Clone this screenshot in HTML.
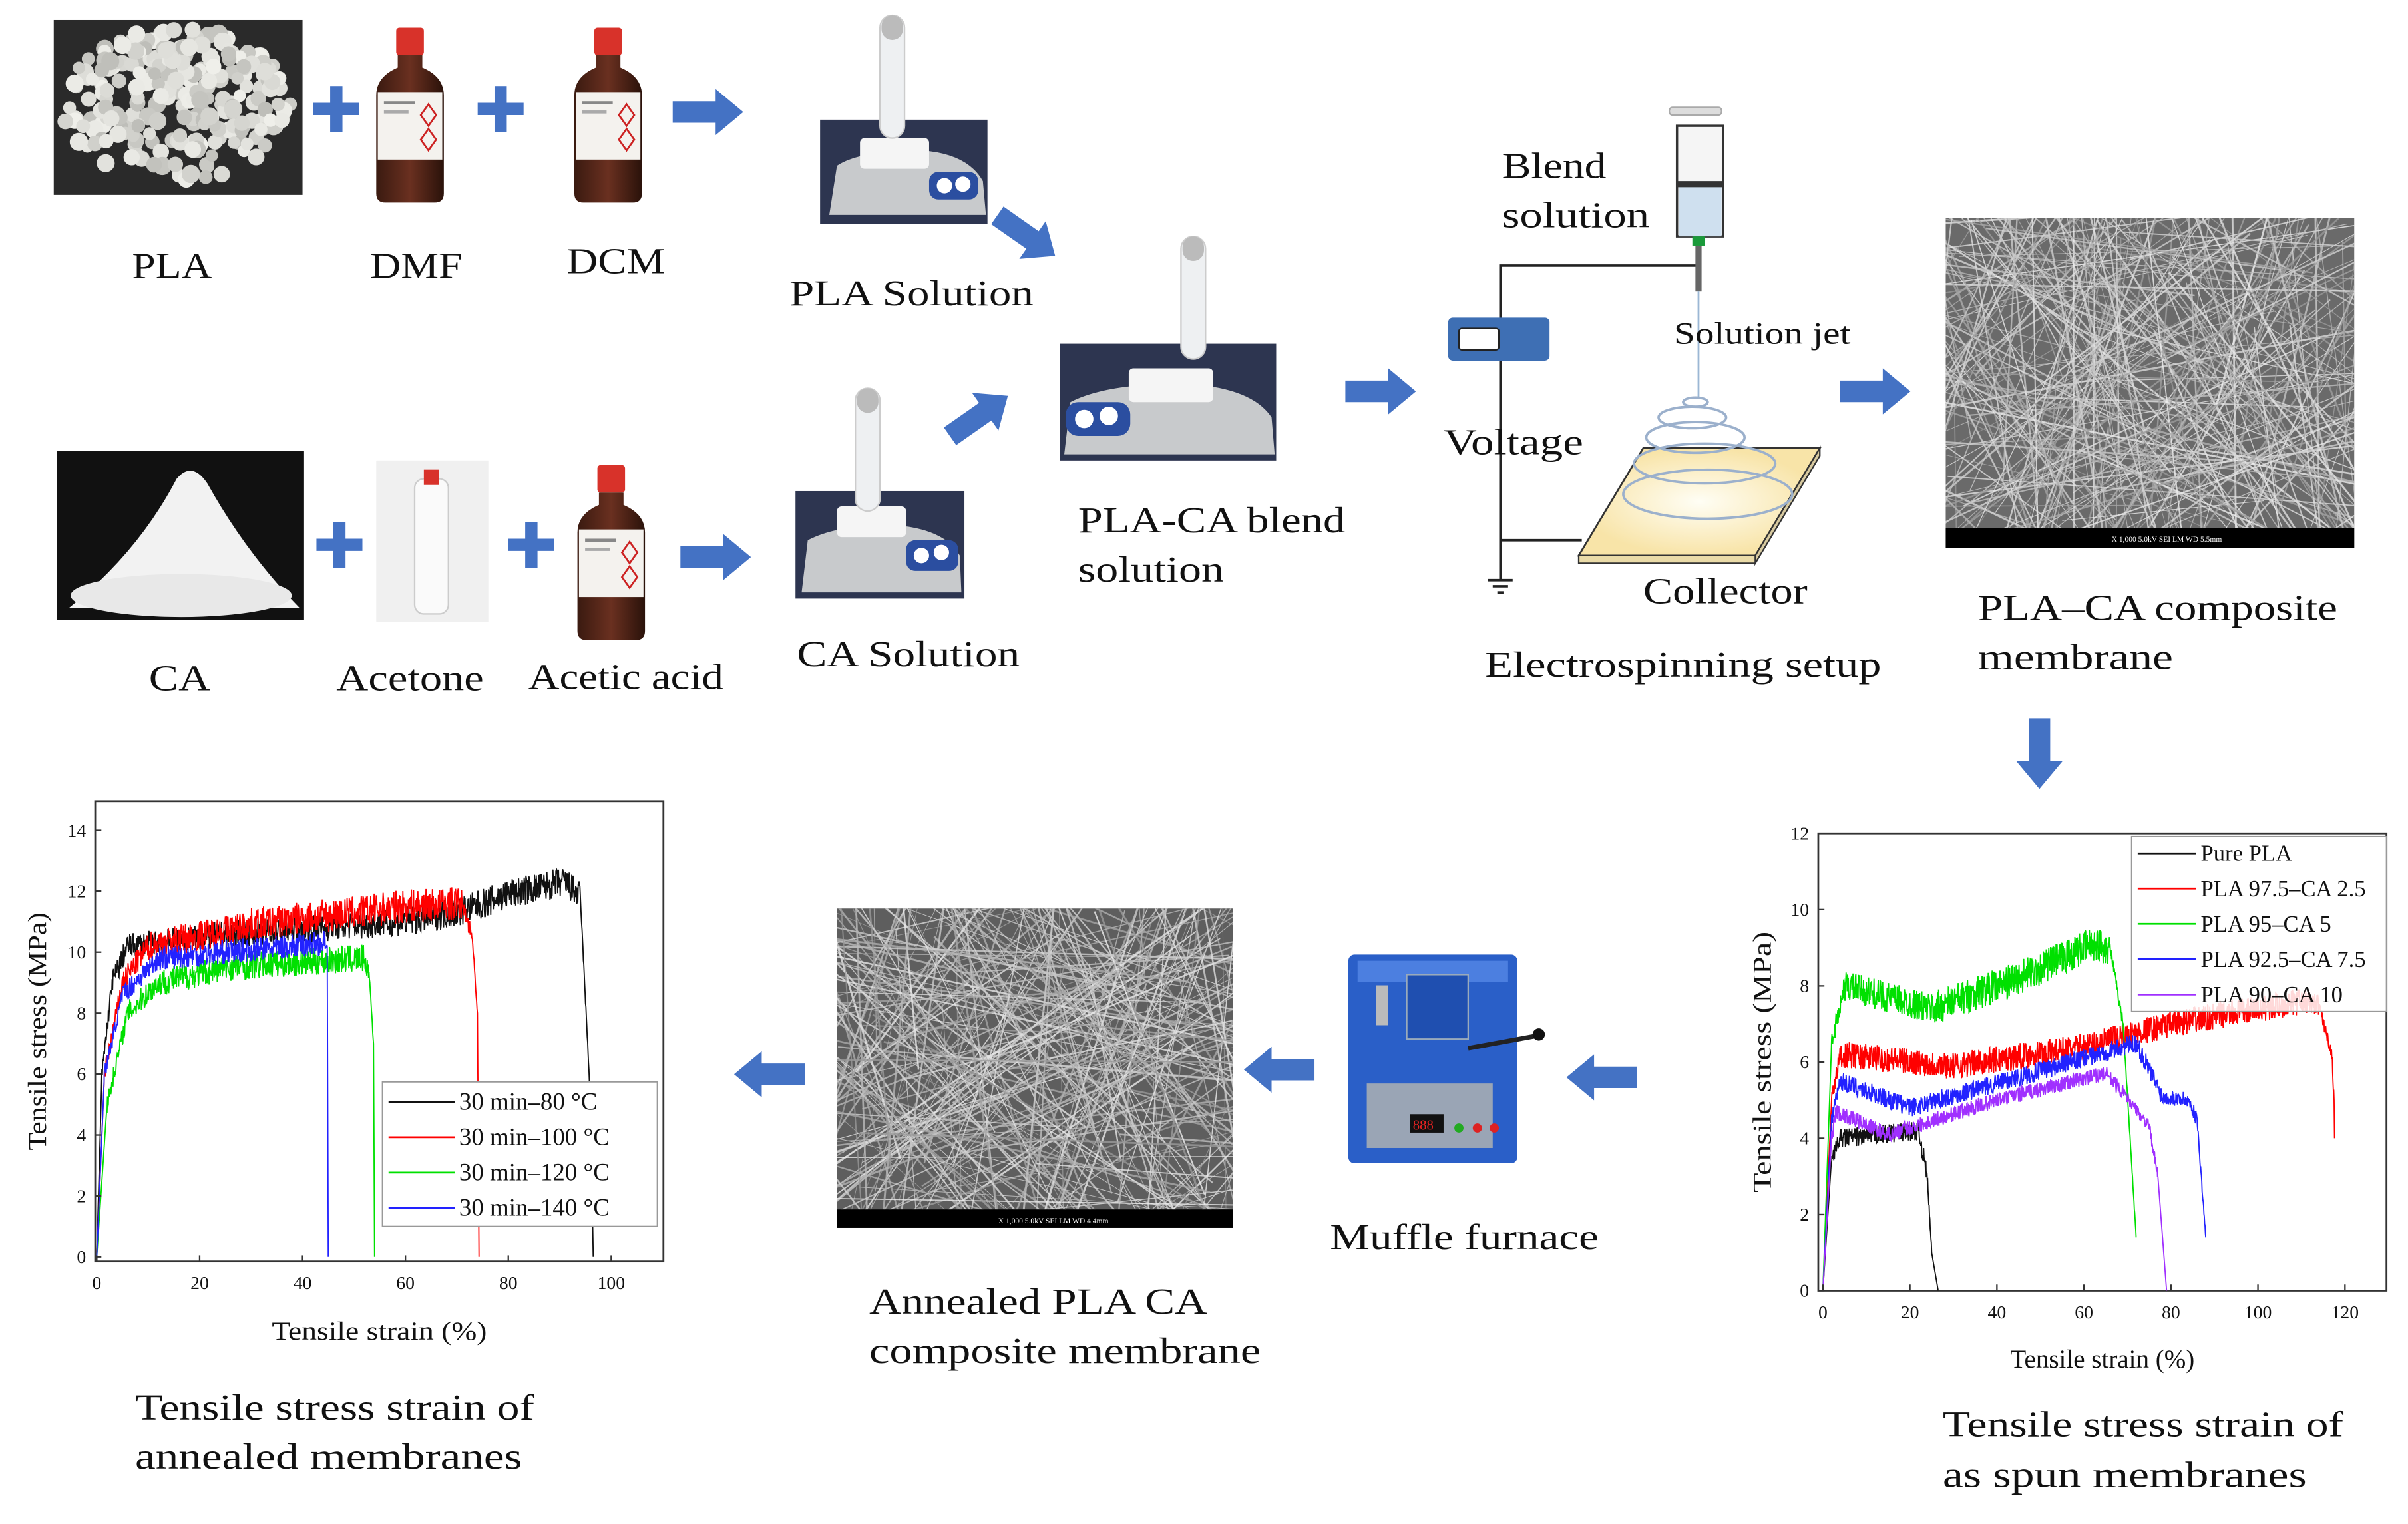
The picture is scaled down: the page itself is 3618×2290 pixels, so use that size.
<!DOCTYPE html>
<html><head><meta charset="utf-8">
<style>
html,body{margin:0;padding:0;background:#fff;width:3618px;height:2290px;overflow:hidden;}
svg{display:block;}
text{font-family:"Liberation Serif",serif;fill:#111;}
</style></head>
<body>
<svg id="s" width="3618" height="2290" viewBox="0 0 1568 993" preserveAspectRatio="none" xmlns="http://www.w3.org/2000/svg">
<defs>
<linearGradient id="bot" x1="0" x2="1"><stop offset="0" stop-color="#3a1a10"/><stop offset="0.5" stop-color="#6a3020"/><stop offset="1" stop-color="#2a120a"/></linearGradient>
<radialGradient id="glow" cx="0.5" cy="0.5" r="0.5"><stop offset="0" stop-color="#fffef5"/><stop offset="1" stop-color="#f8e4a8"/></radialGradient>
<symbol id="arrow" viewBox="0 0 46 30"><polygon points="0,8 28,8 28,0 46,15 28,30 28,22 0,22" fill="#4472c4"/></symbol>
<symbol id="plus" viewBox="0 0 30 30"><path d="M11 0h8v11h11v8H19v11h-8V19H0v-8h11z" fill="#4472c4"/></symbol>
<g id="bottle">
 <rect x="-9" y="-52" width="18" height="18" rx="2" fill="#d8322a"/>
 <path d="M-8,-34 h16 v8 q14,6 14,18 v64 q0,6 -6,6 h-32 q-6,0 -6,-6 v-64 q0,-12 14,-18z" fill="url(#bot)"/>
 <rect x="-21" y="-10" width="42" height="44" fill="#f4f2ee"/>
 <rect x="-17" y="-4" width="20" height="2" fill="#888"/><rect x="-17" y="2" width="16" height="2" fill="#aaa"/>
 <polygon points="12,-2 17,5 12,12 7,5" fill="none" stroke="#c22" stroke-width="1.2"/>
 <polygon points="12,14 17,21 12,28 7,21" fill="none" stroke="#c22" stroke-width="1.2"/>
</g>
<g id="stirrer">
 <rect x="-8" y="-72" width="16" height="80" rx="8" fill="#eef0f2" stroke="#ccc"/>
 <rect x="-7" y="-72" width="14" height="16" rx="7" fill="#bbb"/>
</g>
</defs>

<!-- PLA pellets -->
<rect x="35" y="13" width="162" height="114" fill="#2a2a2a"/>
<g id="pellets"></g>
<!-- CA powder -->
<rect x="37" y="294" width="161" height="110" fill="#111"/>
<path d="M45,396 Q90,360 115,312 Q125,300 135,315 Q160,360 195,396 Z" fill="#f2f2f2"/>
<ellipse cx="118" cy="388" rx="72" ry="14" fill="#e8e8e8"/>

<use href="#bottle" x="267" y="70"/>
<use href="#bottle" x="396" y="70"/>
<use href="#bottle" x="398" y="355"/>
<!-- acetone -->
<rect x="245" y="300" width="73" height="105" fill="#f0f0f0"/>
<rect x="270" y="312" width="22" height="88" rx="6" fill="#fafafa" stroke="#ccc"/>
<rect x="276" y="306" width="10" height="10" fill="#d8322a"/>

<use href="#plus" x="204" y="56" width="30" height="30"/>
<use href="#plus" x="311" y="56" width="30" height="30"/>
<use href="#plus" x="206" y="340" width="30" height="30"/>
<use href="#plus" x="331" y="340" width="30" height="30"/>
<use href="#arrow" x="438" y="58" width="46" height="30"/>
<use href="#arrow" x="443" y="348" width="46" height="30"/>
<use href="#arrow" x="876" y="240" width="46" height="30"/>
<use href="#arrow" x="1198" y="240" width="46" height="30"/>
<use href="#arrow" x="0" y="0" width="46" height="30" transform="translate(658,128) rotate(35)"/>
<use href="#arrow" x="0" y="0" width="46" height="30" transform="translate(610,272) rotate(-35)"/>
<use href="#arrow" x="0" y="0" width="46" height="30" transform="translate(1343,468) rotate(90)"/>
<use href="#arrow" x="0" y="0" width="46" height="30" transform="translate(1066,717) rotate(180)"/>
<use href="#arrow" x="0" y="0" width="46" height="30" transform="translate(856,712) rotate(180)"/>
<use href="#arrow" x="0" y="0" width="46" height="30" transform="translate(524,715) rotate(180)"/>

<!-- stirrers -->
<g>
<rect x="534" y="78" width="109" height="68" fill="#2d3550"/>
<path d="M540,140 L545,108 Q560,98 600,98 Q630,100 640,118 L642,140Z" fill="#c8cacc"/>
<rect x="560" y="90" width="45" height="20" rx="3" fill="#f5f5f5"/>
<rect x="605" y="112" width="32" height="18" rx="6" fill="#2b4ea0"/>
<circle cx="615" cy="121" r="5" fill="#fff"/><circle cx="627" cy="120" r="5" fill="#fff"/>
<use href="#stirrer" x="581" y="82"/>
</g>
<g>
<rect x="690" y="224" width="141" height="76" fill="#2d3550"/>
<path d="M693,296 L697,262 Q720,250 770,250 Q815,252 828,272 L830,296Z" fill="#c8cacc"/>
<rect x="735" y="240" width="55" height="22" rx="3" fill="#f5f5f5"/>
<rect x="694" y="262" width="42" height="22" rx="8" fill="#2b4ea0"/>
<circle cx="706" cy="273" r="6" fill="#fff"/><circle cx="722" cy="271" r="6" fill="#fff"/>
<use href="#stirrer" x="777" y="226"/>
</g>
<g>
<rect x="518" y="320" width="110" height="70" fill="#2d3550"/>
<path d="M522,386 L526,352 Q545,342 580,342 Q615,344 625,362 L626,386Z" fill="#c8cacc"/>
<rect x="545" y="330" width="45" height="20" rx="3" fill="#f5f5f5"/>
<rect x="590" y="352" width="34" height="20" rx="6" fill="#2b4ea0"/>
<circle cx="600" cy="362" r="5" fill="#fff"/><circle cx="613" cy="360" r="5" fill="#fff"/>
<use href="#stirrer" x="565" y="325"/>
</g>

<!-- electrospinning -->
<g stroke="#222" stroke-width="1.6" fill="none">
<polyline points="1105,173 977,173 977,378"/>
<line x1="977" y1="352" x2="1030" y2="352"/>
<line x1="969" y1="378" x2="985" y2="378"/><line x1="972" y1="382" x2="982" y2="382"/><line x1="975" y1="386" x2="979" y2="386"/>
</g>
<rect x="943" y="207" width="66" height="28" rx="3" fill="#3e6fb4"/>
<rect x="950" y="214" width="26" height="14" rx="2" fill="#fff" stroke="#222"/>
<rect x="1092" y="82" width="30" height="72" fill="#f5f5f5" stroke="#333" stroke-width="1.5"/>
<rect x="1093" y="121" width="28" height="33" fill="#cfe0ef"/>
<rect x="1092" y="118" width="30" height="4" fill="#333"/>
<rect x="1087" y="70" width="34" height="5" rx="2" fill="#ddd" stroke="#aaa"/>
<rect x="1102" y="154" width="8" height="6" fill="#1a9a3a"/>
<rect x="1104" y="160" width="4" height="30" fill="#666"/>
<line x1="1106" y1="190" x2="1106" y2="260" stroke="#9bb7d4" stroke-width="1.2"/>
<polygon points="1028,362 1070,292 1185,292 1143,362" fill="url(#glow)" stroke="#333" stroke-width="1.2"/>
<polygon points="1143,362 1185,292 1185,297 1143,367" fill="#d8caa0" stroke="#333" stroke-width="1"/>
<polygon points="1028,362 1143,362 1143,367 1028,367" fill="#eadba8" stroke="#333" stroke-width="1"/>
<g fill="none" stroke="#9bb0cc" stroke-width="1.6">
<ellipse cx="1104" cy="262" rx="8" ry="3"/><ellipse cx="1102" cy="272" rx="22" ry="7"/><ellipse cx="1104" cy="285" rx="32" ry="10"/><ellipse cx="1110" cy="302" rx="46" ry="13"/><ellipse cx="1112" cy="322" rx="55" ry="16"/>
</g>

<!-- SEM images -->
<rect x="1267" y="142" width="266" height="215" fill="#6a6a6a"/>
<g id="sem1" clip-path="url(#c1)"></g>
<rect x="1267" y="344" width="266" height="13" fill="#000"/>
<rect x="545" y="592" width="258" height="208" fill="#5e5e5e"/>
<g id="sem2" clip-path="url(#c2)"></g>
<rect x="545" y="788" width="258" height="12" fill="#000"/>
<clipPath id="c1"><rect x="1267" y="142" width="266" height="202"/></clipPath>
<clipPath id="c2"><rect x="545" y="592" width="258" height="196"/></clipPath>
<g font-size="5"><text x="1375" y="353" style="fill:#fff">X 1,000   5.0kV  SEI    LM     WD 5.5mm</text><text x="650" y="797" style="fill:#fff">X 1,000   5.0kV  SEI    LM     WD 4.4mm</text></g>

<!-- furnace -->
<rect x="878" y="622" width="110" height="136" rx="4" fill="#2a5fc8"/>
<rect x="884" y="626" width="98" height="14" fill="#4c7fe0"/>
<rect x="916" y="635" width="40" height="42" fill="#1f4fb0" stroke="#9ab" stroke-width="1"/>
<rect x="896" y="642" width="8" height="26" fill="#bbb"/>
<line x1="956" y1="683" x2="1000" y2="675" stroke="#222" stroke-width="3"/><circle cx="1002" cy="674" r="4" fill="#111"/>
<rect x="890" y="706" width="82" height="42" fill="#9aa5b5"/>
<rect x="918" y="726" width="22" height="12" fill="#111"/><text x="920" y="736" font-size="9" style="fill:#e22">888</text>
<circle cx="950" cy="735" r="3" fill="#2a2"/><circle cx="962" cy="735" r="3" fill="#d22"/><circle cx="973" cy="735" r="3" fill="#d22"/>

<!-- plots -->
<g id="plots" font-size="12"></g>

<!-- labels -->
<g font-size="24" lengthAdjust="spacingAndGlyphs">
<text x="86" y="181" textLength="52" lengthAdjust="spacingAndGlyphs">PLA</text>
<text x="241" y="181" textLength="60" lengthAdjust="spacingAndGlyphs">DMF</text>
<text x="369" y="178" textLength="64" lengthAdjust="spacingAndGlyphs">DCM</text>
<text x="514" y="199" textLength="159" lengthAdjust="spacingAndGlyphs">PLA Solution</text>
<text x="97" y="450" textLength="40" lengthAdjust="spacingAndGlyphs">CA</text>
<text x="219" y="450" textLength="96" lengthAdjust="spacingAndGlyphs">Acetone</text>
<text x="344" y="449" textLength="127" lengthAdjust="spacingAndGlyphs">Acetic acid</text>
<text x="519" y="434" textLength="145" lengthAdjust="spacingAndGlyphs">CA Solution</text>
<text x="702" y="347" textLength="174" lengthAdjust="spacingAndGlyphs">PLA-CA blend</text>
<text x="702" y="379" textLength="95" lengthAdjust="spacingAndGlyphs">solution</text>
<text x="978" y="116" textLength="68" lengthAdjust="spacingAndGlyphs">Blend</text>
<text x="978" y="148" textLength="96" lengthAdjust="spacingAndGlyphs">solution</text>
<text x="1090" y="224" font-size="20" textLength="115" lengthAdjust="spacingAndGlyphs">Solution jet</text>
<text x="940" y="296" textLength="91" lengthAdjust="spacingAndGlyphs">Voltage</text>
<text x="1070" y="393" textLength="107" lengthAdjust="spacingAndGlyphs">Collector</text>
<text x="967" y="441" textLength="258" lengthAdjust="spacingAndGlyphs">Electrospinning setup</text>
<text x="1288" y="404" textLength="234" lengthAdjust="spacingAndGlyphs">PLA–CA composite</text>
<text x="1288" y="436" textLength="127" lengthAdjust="spacingAndGlyphs">membrane</text>
<text x="866" y="814" textLength="175" lengthAdjust="spacingAndGlyphs">Muffle furnace</text>
<text x="566" y="856" textLength="220" lengthAdjust="spacingAndGlyphs">Annealed PLA CA</text>
<text x="566" y="888" textLength="255" lengthAdjust="spacingAndGlyphs">composite membrane</text>
<text x="88" y="925" textLength="260" lengthAdjust="spacingAndGlyphs">Tensile stress strain of</text>
<text x="88" y="957" textLength="252" lengthAdjust="spacingAndGlyphs">annealed membranes</text>
<text x="1265" y="936" textLength="261" lengthAdjust="spacingAndGlyphs">Tensile stress strain of</text>
<text x="1265" y="969" textLength="237" lengthAdjust="spacingAndGlyphs">as spun membranes</text>
</g>
</svg>
<script>
var NS="http://www.w3.org/2000/svg";
function el(p,t,a,txt){var e=document.createElementNS(NS,t);for(var k in a)e.setAttribute(k,a[k]);if(txt!==undefined)e.textContent=txt;p.appendChild(e);return e;}
var seed=7;function rnd(){seed=(seed*16807)%2147483647;return seed/2147483647;}
var pg=document.getElementById('pellets');
for(var i=0;i<260;i++){var a=rnd()*6.28,r=Math.sqrt(rnd());var x=116+Math.cos(a)*r*76,y=68+Math.sin(a)*r*50;
var g=(190+rnd()*50)|0;el(pg,'circle',{cx:x,cy:y,r:4+rnd()*2,fill:'rgb('+g+','+g+','+(g-5)+')'});}
function sem(id,x0,y0,w,h,n){var g=document.getElementById(id);
for(var i=0;i<n;i++){var x1=x0+rnd()*w,y1=y0+rnd()*h,a=rnd()*3.14,L=60+rnd()*200;
var c=150+rnd()*90|0;el(g,'line',{x1:x1-Math.cos(a)*L,y1:y1-Math.sin(a)*L,x2:x1+Math.cos(a)*L,y2:y1+Math.sin(a)*L,stroke:'rgb('+c+','+c+','+c+')','stroke-width':0.4+rnd()*0.9,'stroke-opacity':0.8});}}
sem('sem1',1267,142,266,202,260);sem('sem2',545,592,258,196,260);
var P=document.getElementById('plots');
function plot(o){
 var X=function(v){return o.x0+v*o.sx;},Y=function(v){return o.y0-v*o.sy;};
 el(P,'rect',{x:o.bx,y:o.by,width:o.bw,height:o.bh,fill:'none',stroke:'#333','stroke-width':1.2});
 o.curves.forEach(function(c){var pts=[];var pts2=c.pts;
  for(var i=0;i<pts2.length-1;i++){var a=pts2[i],b=pts2[i+1];var n=Math.max(2,Math.round((b[0]-a[0])*o.dens));
   for(var j=0;j<n;j++){var t=j/n;var v=a[1]+(b[1]-a[1])*t;var noise=(a[2]||0)*(rnd()-0.5);pts.push(X(a[0]+(b[0]-a[0])*t).toFixed(2)+','+Y(v+noise).toFixed(2));}}
  var l=pts2[pts2.length-1];pts.push(X(l[0])+','+Y(l[1]));
  el(P,'polyline',{points:pts.join(' '),fill:'none',stroke:c.col,'stroke-width':0.8});});
 o.xt.forEach(function(v){el(P,'line',{x1:X(v),y1:o.by+o.bh,x2:X(v),y2:o.by+o.bh-4,stroke:'#333'});el(P,'text',{x:X(v),y:o.by+o.bh+18,'text-anchor':'middle','font-size':12},v);});
 o.yt.forEach(function(v){el(P,'line',{x1:o.bx,y1:Y(v),x2:o.bx+4,y2:Y(v),stroke:'#333'});el(P,'text',{x:o.bx-6,y:Y(v)+4,'text-anchor':'end','font-size':12},v);});
 el(P,'text',{x:o.bx+o.bw/2,y:o.xl,'text-anchor':'middle','font-size':17,textLength:o.xlw,lengthAdjust:'spacingAndGlyphs'},'Tensile strain (%)');
 el(P,'text',{x:0,y:0,'text-anchor':'middle','font-size':17,textLength:o.ylw,lengthAdjust:'spacingAndGlyphs',transform:'translate('+o.yl+','+(o.by+o.bh/2)+') rotate(-90)'},'Tensile stress (MPa)');
 el(P,'rect',{x:o.lg[0],y:o.lg[1],width:o.lg[2],height:o.lg[3],fill:'#fff','fill-opacity':o.lgo,stroke:'#999','stroke-width':0.8});
 o.curves.forEach(function(c,i){var yy=o.lg[1]+o.lg[4]+i*o.lg[5];el(P,'line',{x1:o.lg[0]+4,y1:yy,x2:o.lg[0]+o.lg[6],y2:yy,stroke:c.col,'stroke-width':1.2});
  el(P,'text',{x:o.lg[0]+o.lg[6]+3,y:yy+5,'font-size':o.lg[7]},c.name);});
}
plot({bx:62,by:522,bw:370,bh:300,x0:63,y0:819,sx:3.35,sy:19.86,dens:12,xl:873,yl:30,xlw:140,ylw:155,
 xt:[0,20,40,60,80,100],yt:[0,2,4,6,8,10,12,14],lg:[249,705,179,94,13,23,47,16],lgo:1,
 curves:[
 {col:'#111',name:'30 min–80 °C',pts:[[0,0,0],[1,6,0.6],[3,9,0.8],[6,10.2,0.8],[20,10.5,0.9],[60,11,1],[72,11.4,1],[80,11.9,1],[91,12.3,1],[94,11.8,0.2],[96,5],[96.5,0]]},
 {col:'#f00',name:'30 min–100 °C',pts:[[0,0,0],[1.5,6,0.6],[5,9,0.8],[10,10.2,1],[30,10.9,1.1],[60,11.5,1.1],[71,11.6,0.5],[73,10.5,0.2],[74,8],[74.3,0]]},
 {col:'#00e000',name:'30 min–120 °C',pts:[[0,0,0],[2,5,0.6],[6,8,0.8],[12,9,0.9],[25,9.5,0.9],[52,9.8,0.6],[53,9.2,0.2],[53.8,7],[54,0]]},
 {col:'#22f',name:'30 min–140 °C',pts:[[0,0,0],[1.5,6,0.5],[5,8.6,0.7],[12,9.8,0.8],[44.5,10.3,0.3],[44.8,10.2],[45,0]]}]});
plot({bx:1184,by:543,bw:370,bh:298,x0:1187,y0:841,sx:2.833,sy:24.83,dens:12,xl:891,yl:1153,xlw:120,ylw:170,
 xt:[0,20,40,60,80,100,120],yt:[0,2,4,6,8,10,12],lg:[1388,545,166,114,11,23,42,15],lgo:0.85,
 curves:[
 {col:'#111',name:'Pure PLA',pts:[[0,0,0],[2,3.5,0.4],[4,4,0.5],[22,4.2,0.5],[24,3,0.2],[25,1],[26.5,0]]},
 {col:'#f00',name:'PLA 97.5–CA 2.5',pts:[[0,0,0],[2,5,0.5],[4,6.2,0.7],[30,5.9,0.7],[60,6.4,0.7],[80,7,0.7],[110,7.6,0.6],[114,7.5,0.3],[117,6.2,0.3],[117.5,5],[117.6,4]]},
 {col:'#00e000',name:'PLA 95–CA 5',pts:[[0,0,0],[2,6.5,0.6],[5,8,0.8],[25,7.4,0.9],[45,8.2,0.9],[62,9.1,0.9],[66,9,0.3],[69,7,0.1],[72,1.4]]},
 {col:'#22f',name:'PLA 92.5–CA 7.5',pts:[[0,0,0],[2,4.5,0.5],[4,5.5,0.5],[20,4.8,0.5],[45,5.6,0.5],[72,6.5,0.5],[78,5.1,0.4],[84,5,0.4],[86,4.5,0.2],[88,1.4]]},
 {col:'#a030ff',name:'PLA 90–CA 10',pts:[[0,0,0],[2,4,0.4],[3,4.7,0.4],[15,4.1,0.4],[40,5,0.4],[65,5.7,0.4],[69,5.2,0.3],[75,4.3,0.3],[77,3],[79,0]]}]});
</script>
</body></html>
